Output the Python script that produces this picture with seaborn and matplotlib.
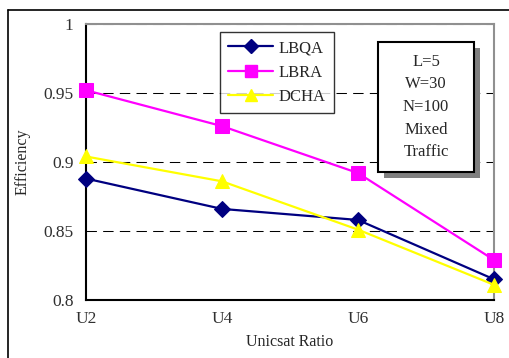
import pandas as pd
import matplotlib.pyplot as plt
import seaborn as sns
from matplotlib.patches import Rectangle
from matplotlib.lines import Line2D

# Values
ratios = ['U2', 'U4', 'U6', 'U8']
lbqa = [0.888, 0.866, 0.858, 0.815]
lbra = [0.952, 0.926, 0.892, 0.829]
dcha = [0.904, 0.886, 0.851, 0.811]
y_ticks = [0.8, 0.85, 0.9, 0.95, 1.0]
y_tick_labels = ['0.8', '0.85', '0.9', '0.95', '1']
info_lines = ['L=5', 'W=30', 'N=100', 'Mixed', 'Traffic']

# Long-form frame for seaborn
df = pd.DataFrame({
    'Unicsat Ratio': ratios * 3,
    'Efficiency': lbqa + lbra + dcha,
    'Algorithm': ['LBQA'] * 4 + ['LBRA'] * 4 + ['DCHA'] * 4,
})

sns.set_theme(style='white')
plt.rcParams['font.family'] = ['Liberation Serif', 'DejaVu Serif']

palette = {'LBQA': '#000080', 'LBRA': '#FF00FF', 'DCHA': '#FFFF00'}
markers = {'LBQA': 'D', 'LBRA': 's', 'DCHA': '^'}
sizes = {'LBQA': 8, 'LBRA': 10, 'DCHA': 10}

fig = plt.figure(figsize=(5.1, 3.58), dpi=100)
ax = fig.add_axes([86 / 510, 1 - 300 / 358, 408 / 510, 276 / 358])

for name in ['LBQA', 'LBRA', 'DCHA']:
    sub = df[df['Algorithm'] == name]
    sns.lineplot(data=sub, x='Unicsat Ratio', y='Efficiency', ax=ax,
                 color=palette[name], marker=markers[name],
                 markersize=sizes[name], markeredgecolor=palette[name],
                 linewidth=1.6, label=name, clip_on=False, zorder=3)

ax.set_xlim(0, 3)
ax.set_ylim(0.8, 1.0)
ax.set_xticks(range(len(ratios)))
ax.set_xticklabels(ratios)
ax.set_yticks(y_ticks)
ax.set_yticklabels(y_tick_labels)
ax.tick_params(axis='x', direction='in', length=4, width=0.8, color='#404040',
               labelsize=12.5, pad=8, labelcolor='#303030')
ax.tick_params(axis='y', length=0, labelsize=12.5, pad=9, labelcolor='#303030')

ax.yaxis.grid(True, linestyle=(0, (10, 6)), color='black', linewidth=0.75)
ax.set_axisbelow(True)

for side in ['top', 'right']:
    ax.spines[side].set_color('#909090')
    ax.spines[side].set_linewidth(1.5)
for side in ['left', 'bottom']:
    ax.spines[side].set_color('black')
    ax.spines[side].set_linewidth(1.5)

ax.set_xlabel('Unicsat Ratio', fontsize=11.5, labelpad=5)
ax.set_ylabel('Efficiency', fontsize=11.5, labelpad=9)

# Legend
handles = [Line2D([0], [0], color=palette[n], marker=markers[n],
                  markersize=sizes[n] - 1, markeredgecolor=palette[n], linewidth=1.6)
           for n in ['LBQA', 'LBRA', 'DCHA']]
leg = ax.legend(handles, ['LBQA', 'LBRA', 'DCHA'], loc='upper left',
                bbox_to_anchor=((220 - 86) / 408, (300 - 32) / 276),
                borderaxespad=0, fancybox=False, frameon=True, fontsize=12,
                handlelength=2.7, labelspacing=0.5, borderpad=0.5,
                handletextpad=0.3)
leg.get_frame().set_edgecolor('black')
leg.get_frame().set_linewidth(1.0)

# Parameter box with shadow
bx, by = (378 - 86) / 408, (300 - 172) / 276
bw, bh = 96 / 408, 130 / 276
ax.add_patch(Rectangle((bx + 6 / 408, by - 6 / 276), bw, bh, transform=ax.transAxes,
                       facecolor='#808080', edgecolor='none', zorder=4, clip_on=False))
ax.add_patch(Rectangle((bx, by), bw, bh, transform=ax.transAxes,
                       facecolor='white', edgecolor='black', linewidth=1.5,
                       zorder=5, clip_on=False))
ax.text(bx + bw / 2, by + bh / 2, '\n'.join(info_lines), transform=ax.transAxes,
        ha='center', va='center', fontsize=12, linespacing=1.55, zorder=6)

# Outer frame of the picture
fig.add_artist(Line2D([8 / 510, 8 / 510], [0, 1 - 10 / 358], color='black', linewidth=1.2))
fig.add_artist(Line2D([8 / 510, 1], [1 - 10 / 358, 1 - 10 / 358], color='black', linewidth=1.2))

fig.savefig('out.png', dpi=100)
